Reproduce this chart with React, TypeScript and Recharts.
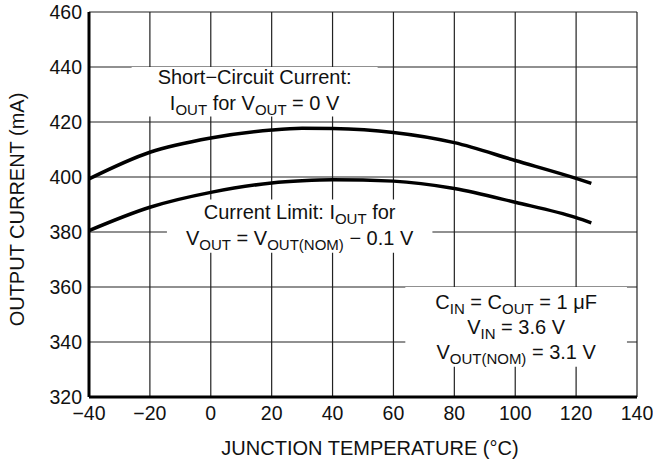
import React from "react";
import {
  LineChart,
  Line,
  XAxis,
  YAxis,
  CartesianGrid,
  ReferenceArea,
} from "recharts";

const TEMPS = [-40, -20, 0, 20, 30, 40, 60, 80, 100, 120, 125];
const SHORT_CIRCUIT = [399.3, 409, 414.2, 417.1, 417.7, 417.6, 416.2, 412.5, 406, 399.5, 397.7];
const CURRENT_LIMIT = [380.5, 389, 394.4, 397.8, 398.6, 399, 398.5, 395.8, 390.8, 385.2, 383.3];

const X_TICKS = [-40, -20, 0, 20, 40, 60, 80, 100, 120, 140];
const Y_TICKS = [320, 340, 360, 380, 400, 420, 440, 460];

const FONT = "'Liberation Sans', Arial, Helvetica, sans-serif";

const data = TEMPS.map((t, i) => ({
  t,
  sc: SHORT_CIRCUIT[i],
  lim: CURRENT_LIMIT[i],
}));

// [text, isSubscript]
type Seg = [string, boolean?];

const fmt = (v: number) => (v < 0 ? "\u2212" + Math.abs(v) : String(v));

function NoteText({ viewBox, lines, offsets }: any) {
  if (!viewBox) return null;
  const cx = viewBox.x + viewBox.width / 2;
  const cy = viewBox.y + viewBox.height / 2;
  return (
    <g>
      {lines.map((segs: Seg[], li: number) => {
        let prevSub = false;
        return (
          <text
            key={li}
            x={cx}
            y={cy + offsets[li]}
            textAnchor="middle"
            dominantBaseline="central"
            fontFamily={FONT}
            fontSize={20}
            fill="#111"
          >
            {segs.map(([txt, sub], si) => {
              const dy = sub ? (prevSub ? 0 : 6) : prevSub ? -6 : 0;
              prevSub = !!sub;
              return (
                <tspan key={si} dy={dy} fontSize={sub ? 15 : 20}>
                  {txt}
                </tspan>
              );
            })}
          </text>
        );
      })}
    </g>
  );
}

const NOTE_SC: Seg[][] = [
  [["Short\u2212Circuit Current:"]],
  [["I"], ["OUT", true], [" for V"], ["OUT", true], [" = 0 V"]],
];
const NOTE_LIM: Seg[][] = [
  [["Current Limit: I"], ["OUT", true], [" for"]],
  [["V"], ["OUT", true], [" = V"], ["OUT(NOM)", true], [" \u2212 0.1 V"]],
];
const NOTE_COND: Seg[][] = [
  [["C"], ["IN", true], [" = C"], ["OUT", true], [" = 1 \u03bcF"]],
  [["V"], ["IN", true], [" = 3.6 V"]],
  [["V"], ["OUT(NOM)", true], [" = 3.1 V"]],
];

export default function App() {
  return (
    <div style={{ position: "absolute", left: 0, top: 0, background: "#fff" }}>
      <LineChart
        width={653}
        height={460}
        data={data}
        margin={{ top: 12, right: 16, bottom: 0, left: 0 }}
      >
        <CartesianGrid stroke="#222" strokeWidth={1.2} />
        <XAxis
          dataKey="t"
          type="number"
          domain={[-40, 140]}
          ticks={X_TICKS}
          tickFormatter={fmt}
          height={63}
          tickSize={0}
          tickMargin={9}
          axisLine={{ stroke: "#000", strokeWidth: 3 }}
          tick={{ fill: "#111", fontSize: 19.5, fontFamily: FONT }}
          label={{
            content: ({ viewBox }: any) => (
              <text
                x={viewBox.x + viewBox.width / 2 + 7}
                y={448}
                textAnchor="middle"
                dominantBaseline="central"
                fontFamily={FONT}
                fontSize={20}
                fill="#111"
              >
                JUNCTION TEMPERATURE (°C)
              </text>
            ),
          }}
        />
        <YAxis
          type="number"
          domain={[320, 460]}
          ticks={Y_TICKS}
          width={89}
          tickSize={0}
          tickMargin={7}
          axisLine={{ stroke: "#000", strokeWidth: 3 }}
          tick={{ fill: "#111", fontSize: 19.5, fontFamily: FONT }}
          label={{
            content: ({ viewBox }: any) => {
              const cy = viewBox.y + viewBox.height / 2 + 5;
              return (
                <text
                  x={17}
                  y={cy}
                  transform={`rotate(-90, 17, ${cy})`}
                  textAnchor="middle"
                  dominantBaseline="central"
                  fontFamily={FONT}
                  fontSize={20}
                  fill="#111"
                >
                  OUTPUT CURRENT (mA)
                </text>
              );
            },
          }}
        />
        <ReferenceArea
          x1={-26}
          x2={54.8}
          y1={422}
          y2={440}
          fill="#fff"
          fillOpacity={1}
          stroke="none"
          ifOverflow="visible"
          label={{
            content: (p: any) => <NoteText viewBox={p.viewBox} lines={NOTE_SC} offsets={[-15, 11]} />,
          }}
        />
        <ReferenceArea
          x1={-14.4}
          x2={72.8}
          y1={372.5}
          y2={391.8}
          fill="#fff"
          fillOpacity={1}
          stroke="none"
          ifOverflow="visible"
          label={{
            content: (p: any) => <NoteText viewBox={p.viewBox} lines={NOTE_LIM} offsets={[-14.5, 11.5]} />,
          }}
        />
        <ReferenceArea
          x1={63.9}
          x2={136.7}
          y1={331}
          y2={360}
          fill="#fff"
          fillOpacity={1}
          stroke="none"
          ifOverflow="visible"
          label={{
            content: (p: any) => <NoteText viewBox={p.viewBox} lines={NOTE_COND} offsets={[-25, 0, 25]} />,
          }}
        />
        <Line
          dataKey="sc"
          type="monotone"
          stroke="#000"
          strokeWidth={3.5}
          dot={false}
          isAnimationActive={false}
        />
        <Line
          dataKey="lim"
          type="monotone"
          stroke="#000"
          strokeWidth={3.5}
          dot={false}
          isAnimationActive={false}
        />
      </LineChart>
    </div>
  );
}
